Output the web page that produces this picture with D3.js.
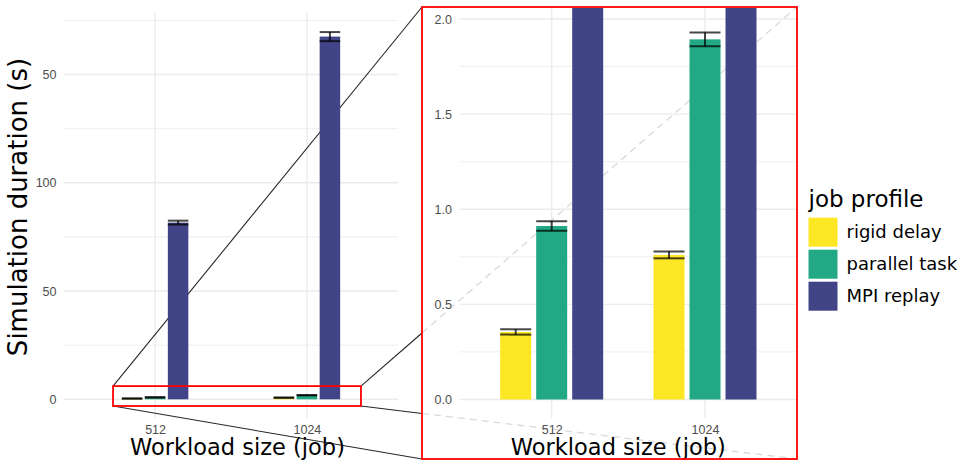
<!DOCTYPE html>
<html>
<head>
<meta charset="utf-8">
<script src="https://cdn.jsdelivr.net/npm/d3@7"></script>
<style>
  body { margin: 0; background: #fff; }
  svg { display: block; }
</style>
</head>
<body>
<svg id="chart" width="966" height="461"></svg>
<script>
// ---- data -------------------------------------------------------------
const workloads = ["512", "1024"];
const profiles = ["rigid delay", "parallel task", "MPI replay"];
const profileColors = ["#FDE725", "#22A884", "#414487"];

// mean simulation duration (s) per workload, and its standard deviation
const meanRigid = [0.355, 0.76];
const meanParallel = [0.912, 1.893];
const meanMpi = [81.6, 167.5];
const sdRigid = [0.014, 0.018];
const sdParallel = [0.025, 0.036];
const sdMpi = [0.9, 2.1];

// axis ticks
const mainTicks = [0, 50, 100, 150];
const mainTickLabels = ["0", "50", "100", "50"];
const mainMinorTicks = [25, 75, 125, 175];
const zoomTicks = [0, 0.5, 1, 1.5, 2];
const zoomTickLabels = ["0.0", "0.5", "1.0", "1.5", "2.0"];
const zoomMinorTicks = [0.25, 0.75, 1.25, 1.75];

// magnified region of the main panel (x in category positions, y in seconds)
const magnifyX = [0.723, 2.356];
const magnifyY = [-3.1, 6.1];

// ---- table ------------------------------------------------------------
const means = [meanRigid, meanParallel, meanMpi];
const sds = [sdRigid, sdParallel, sdMpi];
const rows = [];
workloads.forEach((w, i) => profiles.forEach((p, j) => {
  rows.push({ workload: w, profile: p, mean: means[j][i], sd: sds[j][i] });
}));

const color = d3.scaleOrdinal().domain(profiles).range(profileColors);

const svg = d3.select("#chart");
const tickFont = "'Liberation Sans', Arial, sans-serif";
const titleFont = "'DejaVu Sans', Verdana, sans-serif";
const gridCol = "#EBEBEB";

// ---- layout -----------------------------------------------------------
const main = { left: 64, right: 398, top: 13, bottom: 418 };
const inset = { x0: 422, y0: 7, x1: 797, y1: 459 };
const zoom = { left: 459.7, right: 797, top: 7, bottom: 418 };

const xMain = d3.scalePoint().domain(workloads).range([main.left, main.right]).padding(0.6);
const yMain = d3.scaleLinear().domain([0, 150]).range([399.3, 74.5]);
const xZoom = d3.scalePoint().domain(workloads).range([zoom.left, zoom.right]).padding(0.6);
const yZoom = d3.scaleLinear().domain([0, 2]).range([399.5, 19]);

const posMain = p => xMain(workloads[0]) + (p - 1) * xMain.step();

const defs = svg.append("defs");
defs.append("clipPath").attr("id", "clip-main")
  .append("rect").attr("x", main.left).attr("y", main.top)
  .attr("width", main.right - main.left).attr("height", main.bottom - main.top);
defs.append("clipPath").attr("id", "clip-zoom")
  .append("rect").attr("x", zoom.left).attr("y", zoom.top + 1)
  .attr("width", zoom.right - zoom.left).attr("height", zoom.bottom - zoom.top - 1);

function drawGrid(g, x, y, p, ticks, minor) {
  g.selectAll(".minor").data(minor).join("line")
    .attr("x1", p.left).attr("x2", p.right)
    .attr("y1", d => y(d)).attr("y2", d => y(d))
    .attr("stroke", gridCol).attr("stroke-width", 0.8);
  g.selectAll(".major").data(ticks).join("line")
    .attr("x1", p.left).attr("x2", p.right)
    .attr("y1", d => y(d)).attr("y2", d => y(d))
    .attr("stroke", gridCol).attr("stroke-width", 1.4);
  g.selectAll(".vmajor").data(workloads).join("line")
    .attr("x1", d => x(d)).attr("x2", d => x(d))
    .attr("y1", p.top).attr("y2", p.bottom)
    .attr("stroke", gridCol).attr("stroke-width", 1.4);
}

function drawBars(g, x, y, groupWidth, padInner, clipId) {
  const inner = d3.scaleBand().domain(profiles)
    .range([-groupWidth / 2, groupWidth / 2]).paddingInner(padInner);
  const bw = inner.bandwidth();
  const layer = g.append("g").attr("clip-path", `url(#${clipId})`);
  layer.selectAll("rect.bar").data(rows).join("rect")
    .attr("class", "bar")
    .attr("x", d => x(d.workload) + inner(d.profile))
    .attr("width", bw)
    .attr("y", d => y(d.mean))
    .attr("height", d => y(0) - y(d.mean))
    .attr("fill", d => color(d.profile));
  const eb = layer.selectAll("g.err").data(rows).join("g")
    .attr("class", "err")
    .attr("stroke", "#000").attr("stroke-opacity", 0.72).attr("stroke-width", 2);
  eb.append("line")
    .attr("x1", d => x(d.workload) + inner(d.profile))
    .attr("x2", d => x(d.workload) + inner(d.profile) + bw)
    .attr("y1", d => y(d.mean + d.sd)).attr("y2", d => y(d.mean + d.sd));
  eb.append("line")
    .attr("x1", d => x(d.workload) + inner(d.profile))
    .attr("x2", d => x(d.workload) + inner(d.profile) + bw)
    .attr("y1", d => y(d.mean - d.sd)).attr("y2", d => y(d.mean - d.sd));
  eb.append("line")
    .attr("x1", d => x(d.workload) + inner(d.profile) + bw / 2)
    .attr("x2", d => x(d.workload) + inner(d.profile) + bw / 2)
    .attr("y1", d => y(d.mean + d.sd)).attr("y2", d => y(d.mean - d.sd));
}

function drawAxes(g, x, y, ticks, labels, labelRight) {
  const yAxis = d3.axisLeft(y).tickValues(ticks)
    .tickFormat((d, i) => labels[i]).tickSize(0).tickPadding(0);
  g.append("g").attr("transform", `translate(${labelRight},0)`).call(yAxis)
    .call(a => a.select(".domain").remove())
    .selectAll("text")
    .attr("font-family", tickFont).attr("font-size", 12.5).attr("fill", "#4D4D4D");
  const xAxis = d3.axisBottom(x).tickSize(0).tickPadding(0);
  g.append("g").attr("transform", "translate(0,425)").call(xAxis)
    .call(a => a.select(".domain").remove())
    .selectAll("text")
    .attr("font-family", tickFont).attr("font-size", 12.5).attr("fill", "#4D4D4D")
    .attr("dy", "0.71em");
}

// ---- main panel -------------------------------------------------------
const gMain = svg.append("g");
drawGrid(gMain, xMain, yMain, main, mainTicks, mainMinorTicks);

// projection lines from the magnified region to the inset
const rx0 = posMain(magnifyX[0]), rx1 = posMain(magnifyX[1]);
const ry0 = yMain(magnifyY[1]), ry1 = yMain(magnifyY[0]);
const projections = [
  { from: [rx0, ry0], to: [inset.x0, inset.y0], hidden: false },
  { from: [rx0, ry1], to: [inset.x0, inset.y1], hidden: false },
  { from: [rx1, ry0], to: [inset.x1, inset.y0], hidden: true },
  { from: [rx1, ry1], to: [inset.x1, inset.y1], hidden: true }
];
// solid part up to the inset's left edge
function cutAt(p, xEdge) {
  const t = (xEdge - p.from[0]) / (p.to[0] - p.from[0]);
  return [xEdge, p.from[1] + t * (p.to[1] - p.from[1])];
}
gMain.selectAll("line.proj").data(projections).join("line")
  .attr("class", "proj")
  .attr("x1", d => d.from[0]).attr("y1", d => d.from[1])
  .attr("x2", d => d.hidden ? cutAt(d, inset.x0)[0] : d.to[0])
  .attr("y2", d => d.hidden ? cutAt(d, inset.x0)[1] : d.to[1])
  .attr("stroke", "#262626").attr("stroke-width", 1.1);

drawBars(gMain, xMain, yMain, 66.5, 0.109, "clip-main");
drawAxes(gMain, xMain, yMain, mainTicks, mainTickLabels, 56.5);

gMain.append("rect")
  .attr("x", rx0).attr("y", ry0).attr("width", rx1 - rx0).attr("height", ry1 - ry0)
  .attr("fill", "none").attr("stroke", "#FF0000").attr("stroke-width", 1.8);

gMain.append("text")
  .attr("x", 237.5).attr("y", 454.5).attr("text-anchor", "middle")
  .attr("font-family", titleFont).attr("font-size", 22.5).attr("fill", "#000")
  .text("Workload size (job)");
gMain.append("text")
  .attr("transform", "translate(27,207) rotate(-90)").attr("text-anchor", "middle")
  .attr("font-family", titleFont).attr("font-size", 26).attr("fill", "#000")
  .text("Simulation duration (s)");

// ---- inset (magnified view) -------------------------------------------
const gZoom = svg.append("g");
gZoom.append("rect")
  .attr("x", inset.x0).attr("y", inset.y0)
  .attr("width", inset.x1 - inset.x0).attr("height", inset.y1 - inset.y0)
  .attr("fill", "#fff");
drawGrid(gZoom, xZoom, yZoom, zoom, zoomTicks, zoomMinorTicks);

// projection lines seen through the inset
gZoom.selectAll("line.proj").data(projections.filter(d => d.hidden)).join("line")
  .attr("class", "proj")
  .attr("x1", d => cutAt(d, inset.x0)[0]).attr("y1", d => cutAt(d, inset.x0)[1])
  .attr("x2", d => d.to[0]).attr("y2", d => d.to[1])
  .attr("stroke", "#D9D9D9").attr("stroke-width", 1.3).attr("stroke-dasharray", "7,5");

drawBars(gZoom, xZoom, yZoom, 103, 0.139, "clip-zoom");
drawAxes(gZoom, xZoom, yZoom, zoomTicks, zoomTickLabels, 452);

gZoom.append("text")
  .attr("x", 618.3).attr("y", 454.5).attr("text-anchor", "middle")
  .attr("font-family", titleFont).attr("font-size", 22.5).attr("fill", "#000")
  .text("Workload size (job)");

gZoom.append("rect")
  .attr("x", inset.x0).attr("y", inset.y0)
  .attr("width", inset.x1 - inset.x0).attr("height", inset.y1 - inset.y0)
  .attr("fill", "none").attr("stroke", "#FF0000").attr("stroke-width", 1.8);

// ---- legend -----------------------------------------------------------
const legend = svg.append("g").attr("transform", "translate(808.5,0)");
legend.append("text")
  .attr("x", 0).attr("y", 207)
  .attr("font-family", titleFont).attr("font-size", 23).attr("fill", "#000")
  .text("job profile");
const items = legend.selectAll("g.item").data(profiles).join("g")
  .attr("class", "item")
  .attr("transform", (d, i) => `translate(0,${217.7 + i * 32})`);
items.append("rect")
  .attr("width", 29).attr("height", 29)
  .attr("fill", d => color(d));
items.append("text")
  .attr("x", 38).attr("y", 20.5)
  .attr("font-family", titleFont).attr("font-size", 18).attr("fill", "#000")
  .text(d => d);
</script>
</body>
</html>
